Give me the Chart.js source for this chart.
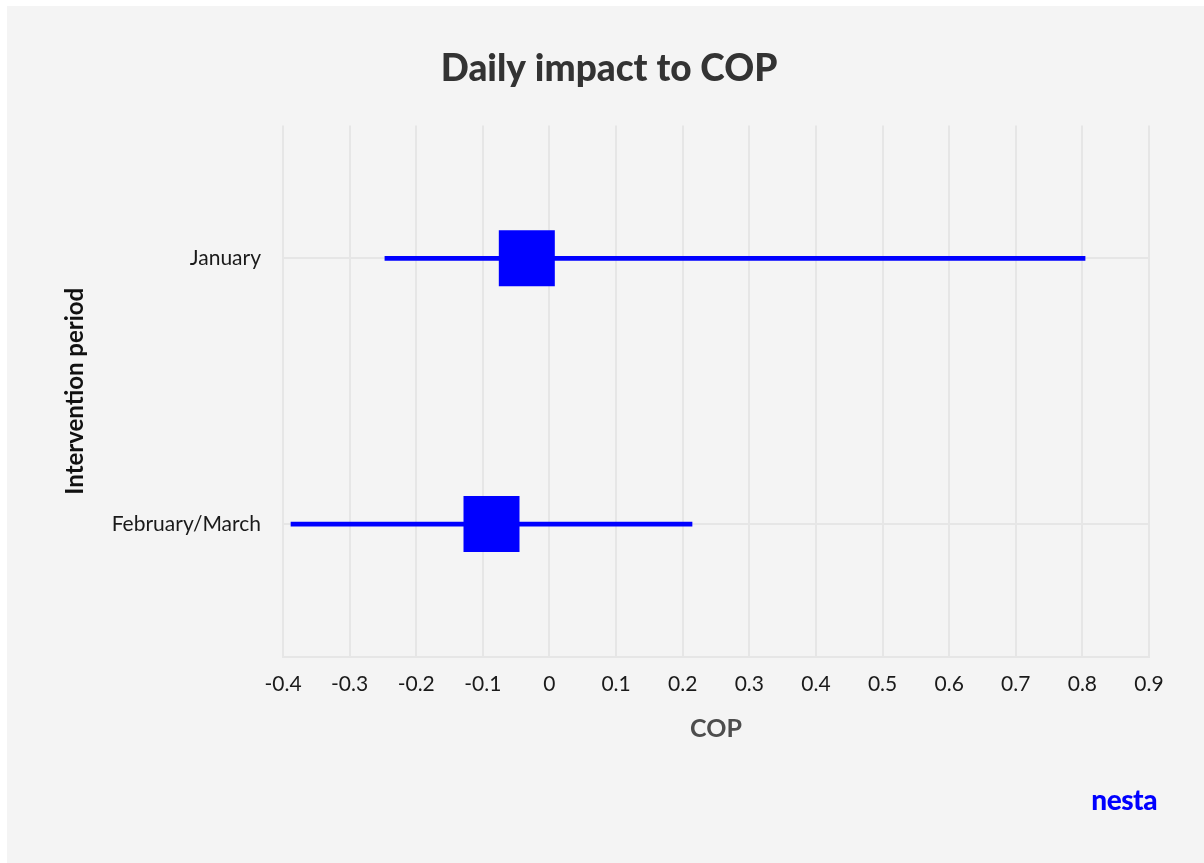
<!DOCTYPE html>
<html>
<head>
<meta charset="utf-8">
<title>Daily impact to COP</title>
<script src="https://cdn.jsdelivr.net/npm/chart.js@4.4.1/dist/chart.umd.min.js"></script>
<style>
  html, body { margin: 0; padding: 0; background: #ffffff; }
  #panel {
    position: absolute; left: 7px; top: 6px;
    width: 1197px; height: 857px;
    background: #f4f4f4;
  }
  #graph-cop { display: block; }
  #logo {
    position: absolute; right: 47px; top: 776px;
    font-family: Lato, sans-serif; font-weight: 900; font-size: 28px;
    color: #0000ff; letter-spacing: -0.5px;
  }
</style>
</head>
<body>
<div id="panel">
  <canvas id="graph-cop" width="1197" height="857"></canvas>
  <div id="logo">nesta</div>
</div>
<script>
'use strict';

// Périodes d'intervention et estimations de l'impact journalier sur le COP
const periodes = ['January', 'February/March'];
const estimations = [-0.034, -0.087];
const bornesBasses = [-0.247, -0.388];
const bornesHautes = [0.804, 0.214];
const xTickLabels = ['-0.4', '-0.3', '-0.2', '-0.1', '0', '0.1', '0.2', '0.3', '0.4', '0.5', '0.6', '0.7', '0.8', '0.9'];

const bleu = '#0000ff';
const grille = '#e6e6e6';
const police = 'Lato, sans-serif';

// Intervalles sous forme de barres flottantes
const intervalles = periodes.map((_, i) => [bornesBasses[i], bornesHautes[i]]);

const ctx = document.getElementById('graph-cop').getContext('2d');
new Chart(ctx, {
    type: 'bar',
    data: {
        labels: periodes,
        datasets: [{
            type: 'line',
            label: 'Estimation',
            data: estimations,
            showLine: false,
            pointStyle: 'rect',
            pointRadius: 39.6,
            pointHoverRadius: 39.6,
            pointBackgroundColor: bleu,
            pointBorderWidth: 0,
            borderColor: bleu
        }, {
            label: 'Intervalle',
            data: intervalles,
            backgroundColor: bleu,
            barThickness: 4,
            borderSkipped: false
        }]
    },
    options: {
        indexAxis: 'y',
        responsive: false,
        animation: false,
        // marges gauche/droite équilibrées pour centrer le titre
        layout: { padding: { left: 62, right: 55, top: 0, bottom: 0 } },
        plugins: {
            legend: { display: false },
            tooltip: { enabled: false },
            title: {
                display: true,
                text: 'Daily impact to COP',
                color: '#333333',
                font: { family: police, size: 37, weight: '900' },
                padding: { top: 41, bottom: 34 }
            }
        },
        scales: {
            x: {
                min: -0.4,
                max: 0.9,
                afterBuildTicks: (scale) => {
                    scale.ticks = xTickLabels.map(t => ({ value: Number(t) }));
                },
                afterFit: (scale) => { scale.height = 206; },
                ticks: {
                    callback: (v, i) => xTickLabels[i],
                    color: '#1a1a1a',
                    font: { family: police, size: 21 },
                    padding: 15,
                    maxRotation: 0
                },
                grid: { color: grille, lineWidth: 2, drawTicks: false },
                border: { display: true, color: grille, width: 2 },
                title: {
                    display: true,
                    text: 'COP',
                    color: '#4d4d4d',
                    font: { family: police, size: 25, weight: 'bold' },
                    padding: { top: 0, bottom: 119 }
                }
            },
            y: {
                afterFit: (scale) => { scale.width = 214; },
                ticks: {
                    color: '#1a1a1a',
                    font: { family: police, size: 21 },
                    padding: 22
                },
                grid: { color: grille, lineWidth: 2, drawTicks: false, offset: false },
                border: { display: false },
                title: {
                    display: true,
                    text: 'Intervention period',
                    color: '#111111',
                    font: { family: police, size: 24, weight: 'bold' },
                    padding: { top: -8, bottom: 0 }
                }
            }
        }
    }
});
</script>
</body>
</html>
